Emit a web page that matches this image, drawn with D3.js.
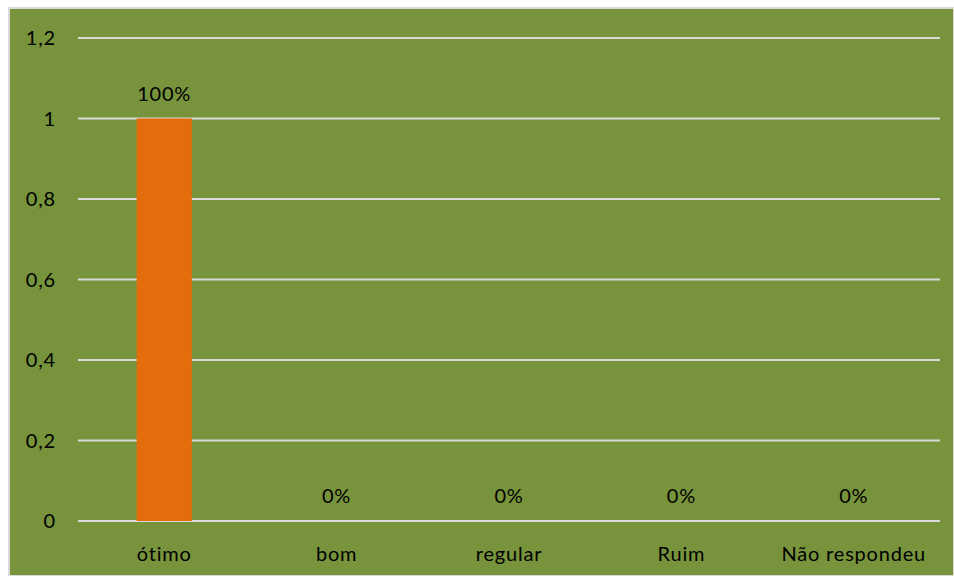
<!DOCTYPE html>
<html><head><meta charset="utf-8">
<script src="https://cdn.jsdelivr.net/npm/d3@7"></script>
<style>body{margin:0;background:#fff}svg{display:block}</style>
</head><body>
<svg id="c" width="954" height="576"></svg>
<script>
const categories = ["ótimo","bom","regular","Ruim","Não respondeu"];
const values = [1,0,0,0,0];
const dataLabels = ["100%","0%","0%","0%","0%"];
const yTicks = [0,0.2,0.4,0.6,0.8,1,1.2];

const svg = d3.select("#c");
const W = 954, H = 576;
svg.append("rect").attr("x",9).attr("y",8).attr("width",W-9).attr("height",H-8)
  .attr("fill","#77933C").attr("stroke","#D9D9D9").attr("stroke-width",2);

const m = {l:78, r:940, t:38, b:521};
const x = d3.scaleBand().domain(categories).range([m.l,m.r]).paddingInner(0.68).paddingOuter(0.34);
const y = d3.scaleLinear().domain([0,1.2]).range([m.b,m.t]);
const font = "Lato, 'Liberation Sans', sans-serif";
const fs = 20, ls = "0.8px";

const g = svg.append("g");
g.selectAll("line.grid").data(yTicks).enter().append("line")
  .attr("x1",m.l).attr("x2",m.r).attr("y1",d=>y(d)).attr("y2",d=>y(d))
  .attr("stroke","#D9D9D9").attr("stroke-width",2);

g.selectAll("text.yt").data(yTicks).enter().append("text")
  .attr("x",56).attr("y",d=>y(d)).attr("dy","0.35em").attr("text-anchor","end")
  .attr("font-family",font).attr("font-size",fs).attr("letter-spacing",ls).attr("fill","#000")
  .text(d=>d3.format(".1f")(d).replace(/\.0$/,"").replace(".",","));

g.selectAll("rect.bar").data(values).enter().append("rect")
  .attr("x",(d,i)=>x(categories[i])).attr("width",x.bandwidth())
  .attr("y",d=>y(d)).attr("height",d=>y(0)-y(d)).attr("fill","#E46C0A");

g.selectAll("text.dl").data(values).enter().append("text")
  .attr("x",(d,i)=>x(categories[i])+x.bandwidth()/2).attr("y",d=>y(d)-18)
  .attr("text-anchor","middle").attr("font-family",font).attr("font-size",fs).attr("letter-spacing",ls).attr("fill","#000")
  .text((d,i)=>dataLabels[i]);

g.selectAll("text.xl").data(categories).enter().append("text")
  .attr("x",d=>x(d)+x.bandwidth()/2).attr("y",561)
  .attr("text-anchor","middle").attr("font-family",font).attr("font-size",fs).attr("letter-spacing",ls).attr("fill","#000")
  .text(d=>d);
</script>
</body></html>
